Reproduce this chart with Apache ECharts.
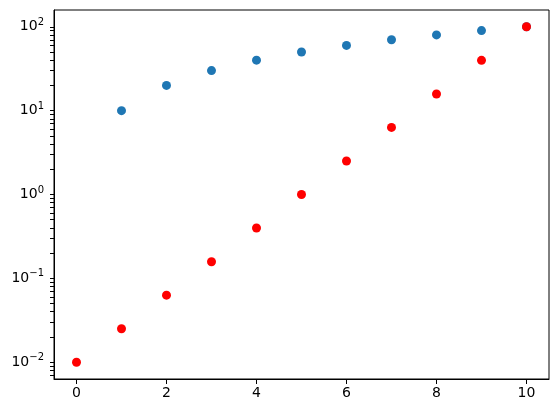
<!DOCTYPE html>
<html>
<head>
<meta charset="utf-8">
<script src="https://cdn.jsdelivr.net/npm/echarts@6/dist/echarts.min.js"></script>
<style>
  html, body { margin: 0; padding: 0; background: #fff; }
  #chart { width: 558px; height: 413px; }
</style>
</head>
<body>
<div id="chart"></div>
<script>
// data
var blueX = [1, 2, 3, 4, 5, 6, 7, 8, 9, 10];
var blueY = [10, 20, 30, 40, 50, 60, 70, 80, 90, 100];
var redX = [0, 1, 2, 3, 4, 5, 6, 7, 8, 9, 10];
var redY = [0.01, 0.0251, 0.0631, 0.158, 0.398, 1.0, 2.51, 6.31, 15.8, 39.8, 100];

var xTicks = [0, 2, 4, 6, 8, 10];
var yTicks = [0.01, 0.1, 1, 10, 100];
var yMinorTicks = [0.007, 0.008, 0.009,
    0.02, 0.03, 0.04, 0.05, 0.06, 0.07, 0.08, 0.09,
    0.2, 0.3, 0.4, 0.5, 0.6, 0.7, 0.8, 0.9,
    2, 3, 4, 5, 6, 7, 8, 9,
    20, 30, 40, 50, 60, 70, 80, 90];

function pairs(xs, ys) {
    return xs.map(function (x, i) { return [x, ys[i]]; });
}

var chart = echarts.init(document.getElementById('chart'));
var font = 'DejaVu Sans';
var yMin = Math.pow(10, -2.2), yMax = Math.pow(10, 2.2);

var option = {
    animation: false,
    grid: {
        left: 54, right: 9, top: 10, bottom: 34,
        show: true, borderColor: '#000', borderWidth: 1, backgroundColor: 'transparent'
    },
    xAxis: {
        type: 'value', min: -0.5, max: 10.5,
        axisLine: { show: true, onZero: false, lineStyle: { color: '#000', width: 1 } },
        axisTick: { show: true, length: 5, lineStyle: { color: '#000', width: 1 }, customValues: xTicks },
        axisLabel: { color: '#000', fontFamily: font, fontSize: 14, margin: 7, customValues: xTicks },
        splitLine: { show: false }
    },
    yAxis: {
        type: 'log', logBase: 10, min: yMin, max: yMax,
        axisLine: { show: true, onZero: false, lineStyle: { color: '#000', width: 1 } },
        axisTick: {
            show: true, length: 4, lineStyle: { color: '#000', width: 1 },
            customValues: yTicks.concat(yMinorTicks)
        },
        axisLabel: {
            color: '#000', fontFamily: font, fontSize: 14, margin: 10, customValues: yTicks,
            formatter: function (v) {
                var e = Math.round(Math.log10(v));
                return '10{sup|' + (e < 0 ? '\u2212' + (-e) : e) + '}';
            },
            rich: { sup: { fontSize: 10, fontFamily: font, color: '#000', padding: [0, 0, 9, 0] } }
        },
        splitLine: { show: false }
    },
    series: [{
        type: 'scatter', symbolSize: 9,
        itemStyle: { color: '#1f77b4', opacity: 1 },
        data: pairs(blueX, blueY)
    }, {
        type: 'scatter', symbolSize: 9,
        itemStyle: { color: '#ff0000', opacity: 1 },
        data: pairs(redX, redY)
    }]
};
chart.setOption(option);
</script>
</body>
</html>
